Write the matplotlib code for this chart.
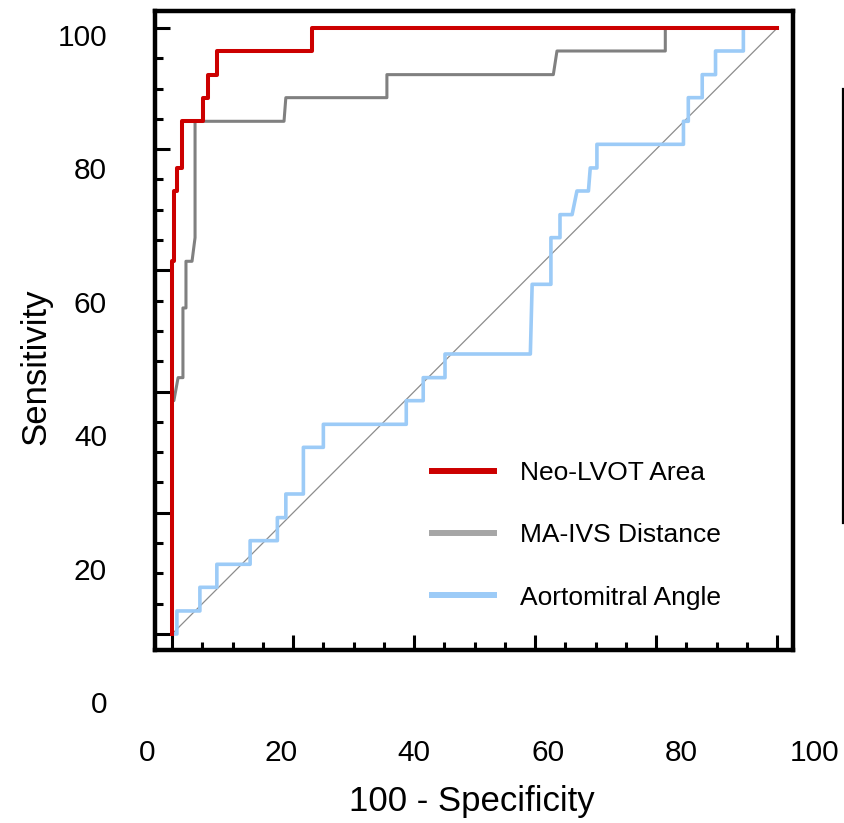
import numpy as np
import matplotlib
matplotlib.use("Agg")
import matplotlib.pyplot as plt
from matplotlib.ticker import MultipleLocator

plt.rcParams['font.family'] = ['Liberation Sans', 'DejaVu Sans']

# ROC curves (100 - specificity, sensitivity)
neo_x = [0, 0, 0.3, 0.3, 0.8, 0.8, 1.6, 1.6, 5.1, 5.1, 5.9, 5.9, 7.4, 7.4, 23.1, 23.1, 100]
neo_y = [0, 61.5, 61.5, 73.1, 73.1, 76.9, 76.9, 84.6, 84.6, 88.5, 88.5, 92.3, 92.3, 96.2, 96.2, 100, 100]

ma_x = [0, 0, 0.3, 1.0, 1.8, 1.8, 2.3, 2.3, 3.3, 3.8, 3.8, 18.5, 18.8, 35.5, 35.5, 63.0, 63.6, 81.5, 81.5, 100]
ma_y = [0, 38.5, 38.5, 42.3, 42.3, 53.8, 53.8, 61.5, 61.5, 65.4, 84.6, 84.6, 88.5, 88.5, 92.3, 92.3, 96.2, 96.2, 100, 100]

am_x = [0, 0.8, 0.8, 4.6, 4.6, 7.4, 7.4, 12.9, 12.9, 17.4, 17.4, 18.8, 18.8, 21.7, 21.7,
        25.0, 25.0, 38.7, 38.7, 41.5, 41.5, 45.1, 45.1, 59.2, 59.5, 62.6, 62.6, 64.1, 64.1,
        66.1, 66.9, 68.8, 69.1, 70.2, 70.2, 84.5, 84.5, 85.3, 85.3, 87.6, 87.6, 89.8, 89.8,
        94.4, 94.4, 100]
am_y = [0, 0, 3.8, 3.8, 7.7, 7.7, 11.5, 11.5, 15.4, 15.4, 19.2, 19.2, 23.1, 23.1, 30.8,
        30.8, 34.6, 34.6, 38.5, 38.5, 42.3, 42.3, 46.2, 46.2, 57.7, 57.7, 65.4, 65.4, 69.2,
        69.2, 73.1, 73.1, 76.9, 76.9, 80.8, 80.8, 84.6, 84.6, 88.5, 88.5, 92.3, 92.3, 96.2,
        96.2, 100, 100]

labels = ['Neo-LVOT Area', 'MA-IVS Distance', 'Aortomitral Angle']
colors = ['#cc0000', '#808080', '#9ccbf7']
tick_vals = [0, 20, 40, 60, 80, 100]

W, H = 845, 823
fig = plt.figure(figsize=(W / 100, H / 100), dpi=100)

# main frame (pixel box of the plot)
L, R, T, B = 154.5, 793, 11, 649.5
ax = fig.add_axes([L / W, 1 - B / H, (R - L) / W, (B - T) / H])
ax.set_xlim(-2.9, 102.6)
ax.set_ylim(-2.56, 102.8)

ax.plot([0, 100], [0, 100], color='#8c8c8c', lw=0.9, zorder=1)
ax.plot(am_x, am_y, color=colors[2], lw=2.6, zorder=2, label=labels[2])
ax.plot(ma_x, ma_y, color=colors[1], lw=2.2, zorder=3, label=labels[1])
ax.plot(neo_x, neo_y, color=colors[0], lw=2.9, zorder=4, label=labels[0])

for s in ax.spines.values():
    s.set_linewidth(3.2)
ax.xaxis.set_major_locator(MultipleLocator(20))
ax.xaxis.set_minor_locator(MultipleLocator(5))
ax.yaxis.set_major_locator(MultipleLocator(20))
ax.yaxis.set_minor_locator(MultipleLocator(5))
ax.tick_params(which='both', direction='in', labelleft=False, labelbottom=False, width=2.2)
ax.tick_params(which='major', length=10.5)
ax.tick_params(which='minor', length=5.5)

handles, labs = ax.get_legend_handles_labels()
order = [2, 1, 0]
leg = ax.legend([handles[i] for i in order], [labs[i] for i in order],
                loc='upper left', bbox_to_anchor=(0.4346, 0.295), frameon=False,
                fontsize=19, handlelength=2.35, handletextpad=1.0,
                labelspacing=1.45, borderpad=0, borderaxespad=0)
for h, c in zip(leg.legend_handles, ['#cc0000', '#a6a6a6', '#9ccbf7']):
    h.set_linewidth(4.3)
    h.set_color(c)

# tick labels sit on their own offset grid
lab = fig.add_axes([147 / W, 1 - 702 / H, (815 - 147) / W, (702 - 35) / H])
lab.set_xlim(0, 100)
lab.set_ylim(0, 100)
lab.patch.set_visible(False)
for s in lab.spines.values():
    s.set_visible(False)
lab.set_xticks(tick_vals)
lab.set_yticks(tick_vals)
lab.set_xticklabels([str(v) for v in tick_vals])
lab.set_yticklabels([str(v) for v in tick_vals])
lab.tick_params(axis='y', length=0, pad=28.8, labelsize=21.5)
lab.tick_params(axis='x', length=0, pad=26.5, labelsize=21.5)

lab.set_xlabel('100 - Specificity', fontsize=25)
lab.set_ylabel('Sensitivity', fontsize=25)
lab.xaxis.label.set_va('center')
lab.yaxis.label.set_va('center')
lab.xaxis.set_label_coords((472 - 147) / (815 - 147), (702 - 801) / (702 - 35))
lab.yaxis.set_label_coords((36 - 147) / (815 - 147), (702 - 367) / (702 - 35))

# edge of the neighbouring panel, cut off at the right border
side = fig.add_axes([843 / W, 1 - 523 / H, 0.01, (523 - 89) / H])
side.patch.set_visible(False)
for k, s in side.spines.items():
    s.set_visible(k == 'left')
side.spines['left'].set_linewidth(1.6)
side.set_xticks([])
side.set_yticks([])

fig.savefig('out.png', dpi=100)
